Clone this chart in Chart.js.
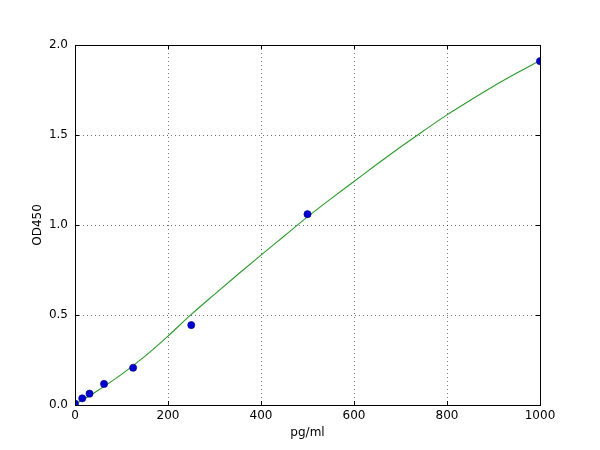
<!DOCTYPE html>
<html>
<head>
<meta charset="utf-8">
<script src="https://cdn.jsdelivr.net/npm/chart.js@4/dist/chart.umd.min.js"></script>
<style>
  body { margin: 0; background: #ffffff; }
  #wrap { width: 600px; height: 450px; }
</style>
</head>
<body>
<div id="wrap"><canvas id="chartCurve" width="600" height="450"></canvas></div>
<script>
// standard points (pg/ml, OD450)
var stdConc = [0, 15.625, 31.25, 62.5, 125, 250, 500, 1000];
var stdOD = [0.008, 0.037, 0.063, 0.117, 0.207, 0.444, 1.06, 1.91];

// fitted curve
var curveConc = [0, 25, 50, 100, 150, 200, 250, 300, 350, 400, 450, 500, 550, 600, 650, 700, 750, 800, 850, 900, 950, 1000];
var curveOD = [0.005, 0.042, 0.082, 0.170, 0.270, 0.383, 0.503, 0.615, 0.725, 0.833, 0.939, 1.045, 1.145, 1.242, 1.339, 1.433, 1.524, 1.612, 1.693, 1.771, 1.844, 1.914];

var xTicks = [0, 200, 400, 600, 800, 1000];
var yTicks = [0.0, 0.5, 1.0, 1.5, 2.0];

function toPoints(xs, ys) {
    return xs.map(function (x, i) {
        return { x: x, y: ys[i] };
    });
}

// frame + inward ticks like matplotlib
var framePlugin = {
    id: "frame",
    afterDraw: function (chart) {
        var ctx = chart.ctx;
        var a = chart.chartArea;
        var xs = chart.scales.x;
        var ys = chart.scales.y;
        ctx.save();
        ctx.strokeStyle = "#000000";
        ctx.lineWidth = 1;
        ctx.beginPath();
        xTicks.forEach(function (v) {
            var px = Math.round(xs.getPixelForValue(v)) + 0.5;
            ctx.moveTo(px, a.bottom);
            ctx.lineTo(px, a.bottom - 4);
            ctx.moveTo(px, a.top);
            ctx.lineTo(px, a.top + 4);
        });
        yTicks.forEach(function (v) {
            var py = Math.round(ys.getPixelForValue(v)) + 0.5;
            ctx.moveTo(a.left, py);
            ctx.lineTo(a.left + 4, py);
            ctx.moveTo(a.right, py);
            ctx.lineTo(a.right - 4, py);
        });
        ctx.stroke();
        ctx.strokeRect(Math.round(a.left) + 0.5, Math.round(a.top) + 0.5,
            Math.round(a.right - a.left), Math.round(a.bottom - a.top));
        ctx.restore();
    }
};

var ctx = document.getElementById("chartCurve").getContext("2d");

var myChart = new Chart(ctx, {
    type: "scatter",
    data: {
        datasets: [
            {
                label: "Standards",
                data: toPoints(stdConc, stdOD),
                backgroundColor: "#0000d0",
                borderColor: "#00007a",
                borderWidth: 0.6,
                pointRadius: 3.6,
                clip: 0
            },
            {
                label: "Fit",
                type: "line",
                data: toPoints(curveConc, curveOD),
                borderColor: "#2a9a2a",
                borderWidth: 1.1,
                pointRadius: 0,
                fill: false,
                cubicInterpolationMode: "monotone",
                clip: 0
            }
        ]
    },
    options: {
        responsive: false,
        animation: false,
        layout: { padding: { top: 45, right: 60, left: 0, bottom: 0 } },
        plugins: {
            legend: { display: false },
            tooltip: { enabled: false }
        },
        scales: {
            x: {
                type: "linear",
                min: 0,
                max: 1000,
                afterFit: function (scale) { scale.height = 45; },
                afterBuildTicks: function (scale) {
                    scale.ticks = xTicks.map(function (v) { return { value: v }; });
                },
                ticks: {
                    color: "#000000",
                    padding: 4,
                    font: { family: "DejaVu Sans", size: 12 },
                    callback: function (v) { return String(v); }
                },
                grid: {
                    color: "rgba(0,0,0,0.55)",
                    lineWidth: 1,
                    drawTicks: false
                },
                border: { display: false, dash: [1, 3] },
                title: {
                    display: true,
                    text: "pg/ml",
                    color: "#000000",
                    font: { family: "DejaVu Sans", size: 12 },
                    padding: { top: 0, bottom: 10 }
                }
            },
            y: {
                type: "linear",
                min: 0,
                max: 2,
                afterFit: function (scale) { scale.width = 75; },
                afterBuildTicks: function (scale) {
                    scale.ticks = yTicks.map(function (v) { return { value: v }; });
                },
                ticks: {
                    color: "#000000",
                    padding: 7,
                    font: { family: "DejaVu Sans", size: 12 },
                    callback: function (v) { return Number(v).toFixed(1); }
                },
                grid: {
                    color: "rgba(0,0,0,0.55)",
                    lineWidth: 1,
                    drawTicks: false
                },
                border: { display: false, dash: [1, 3] },
                title: {
                    display: true,
                    text: "OD450",
                    color: "#000000",
                    font: { family: "DejaVu Sans", size: 12 },
                    padding: { top: 31, bottom: 0 }
                }
            }
        }
    },
    plugins: [framePlugin]
});
</script>
</body>
</html>
